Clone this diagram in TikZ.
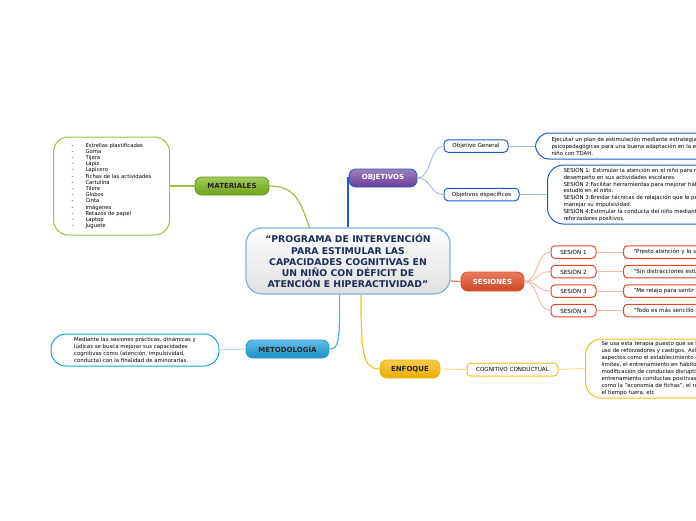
\documentclass[tikz,border=0pt]{standalone}
\usepackage{fontspec}
\setmainfont{DejaVu Sans}
\usepackage{tikz}
\usetikzlibrary{positioning}
\usepackage{xcolor}
\definecolor{hubline}{HTML}{7FB2E5}
\definecolor{hubtext}{HTML}{1C2D5A}
\definecolor{fgreen}{HTML}{7CB51C}
\definecolor{fgreenl}{HTML}{9BC53D}
\definecolor{fpurple}{HTML}{6A3D9A}
\definecolor{fblue}{HTML}{1E5CC8}
\definecolor{fbluel}{HTML}{9AB8E8}
\definecolor{forange}{HTML}{E2502A}
\definecolor{forangel}{HTML}{F7B7A0}
\definecolor{fcyan}{HTML}{1EA0DC}
\definecolor{fcyanl}{HTML}{A8D8F0}
\definecolor{fyellow}{HTML}{F5B400}
\definecolor{fyellowl}{HTML}{FDD98A}
\tikzset{
  hub/.style     = {draw=hubline, line width=1.2pt, rounded corners=16pt,
                    top color=white, bottom color=gray!25, text=hubtext,
                    minimum width=204pt, minimum height=66pt, align=center,
                    inner sep=0pt, font=\fontsize{9.3}{11.2}\selectfont\bfseries},
  branch/.style  = {line width=0.9pt, rounded corners=7pt, minimum height=18pt,
                    inner sep=0pt, font=\fontsize{7}{8}\selectfont\bfseries},
  leaf/.style    = {draw, fill=white, line width=1pt, rounded corners=4pt,
                    minimum height=12.5pt, inner sep=0pt,
                    font=\fontsize{5.6}{6.5}\selectfont},
  note/.style    = {draw, fill=white, line width=1pt, rounded corners=14pt,
                    align=left, inner xsep=16pt, inner ysep=0pt,
                    font=\fontsize{5.4}{6.9}\selectfont},
  trunk/.style   = {line width=1.2pt},
  twig/.style    = {line width=0.9pt},
}
\begin{document}
\begin{tikzpicture}[x=1pt,y=1pt]
\useasboundingbox (0,0) rectangle (696,-520);
\clip (0,0) rectangle (696,-520);
\node[hub] (prog) at (348,-261) {“PROGRAMA DE INTERVENCIÓN\\PARA ESTIMULAR LAS\\CAPACIDADES COGNITIVAS EN\\UN NIÑO CON DÉFICIT DE\\ATENCIÓN E HIPERACTIVIDAD”};
% branches
\node[branch, draw=fgreen!85!black, top color=fgreen!70!white, bottom color=fgreen!90!black,
  minimum width=74pt, text=black!85] (mat) at (232,-186) {MATERIALES};
\node[branch, draw=fblue, top color=fpurple!65!white, bottom color=fpurple,
  minimum width=68pt, text=white] (obj) at (383,-178) {OBJETIVOS};
\node[branch, draw=forange, top color=forange!75!white, bottom color=forange!90!black,
  minimum width=63pt, minimum height=19pt, text=white] (ses) at (492.5,-281.5) {SESIONES};
\node[branch, draw=fcyan, top color=fcyan!70!white, bottom color=fcyan!90!black,
  minimum width=83pt, text=black!85] (met) at (287.5,-349) {METODOLOGÍA};
\node[branch, draw=fyellow, top color=fyellow!70!white, bottom color=fyellow!95!black,
  minimum width=60pt, text=black!85] (enf) at (410,-369) {ENFOQUE};
% materiales
\node[note, draw=fgreenl, rounded corners=15pt, minimum width=116pt, minimum height=98pt,
  font=\fontsize{5.3}{6.2}\selectfont] (mattxt) at (111.5,-186) {%
  -\hspace{12pt}Estrellas plastificadas\\ -\hspace{12pt}Goma\\ -\hspace{12pt}Tijera\\
  -\hspace{12pt}Lápiz\\ -\hspace{12pt}Lapicero\\ -\hspace{12pt}Fichas de las actividades\\
  -\hspace{12pt}Cartulina\\ -\hspace{12pt}Tilere\\ -\hspace{12pt}Globos\\
  -\hspace{12pt}Cinta\\ -\hspace{12pt}Imágenes\\ -\hspace{12pt}Retazos de papel\\
  -\hspace{12pt}Laptop\\ -\hspace{12pt}Juguete};
% objetivos
\node[leaf, draw=fblue, minimum width=64pt] (objgen) at (476,-146) {Objetivo General};
\node[leaf, draw=fblue, minimum width=75pt] (objesp) at (481.5,-194.5) {Objetivos específicos};
\node[note, draw=fblue, anchor=west, minimum height=26pt] (objgentxt) at (535,-146) {%
  Ejecutar un plan de estimulación mediante estrategias\\
  psicopedagógicas para una buena adaptación en la escuela\\
  niño con TDAH.};
\node[note, draw=fblue, anchor=west, minimum height=59pt, rounded corners=16pt] (objesptxt) at (547,-194.5) {%
  SESIÓN 1: Estimular la atención en el niño para mejorar\\
  desempeño en sus actividades escolares.\\
  SESIÓN 2:Facilitar herramientas para mejorar hábitos\\
  estudio en el niño.\\
  SESIÓN 3:Brindar técnicas de relajación que le permitan\\
  manejar su impulsividad.\\
  SESIÓN 4:Estimular la conducta del niño mediante\\
  reforzadores positivos.};
% sesiones
\foreach \k/\y/\frase in {1/-252/“Presto atención y lo soluciono,
                          2/-271.5/“Sin distracciones estudio mejor,
                          3/-291/“Me relajo para sentir una calma,
                          4/-310.5/“Todo es más sencillo si me porto}{
  \node[leaf, draw=forange!90!red, minimum width=45pt] (ses\k) at (573.5,\y) {SESIÓN \k};
  \node[leaf, draw=forange!90!red, anchor=west, align=left, inner xsep=10pt] (ses\k txt) at (623,\y) {\frase};
  \draw[twig, forangel] (ses.east) .. controls +(14,0) and +(-14,0) .. (ses\k.west);
  \draw[twig, forangel] (ses\k.east) -- (ses\k txt.west);
}
% metodologia
\node[note, draw=fcyan, minimum width=168pt, minimum height=32pt, rounded corners=15pt] (mettxt) at (135,-350) {%
  Mediante las sesiones prácticas, dinámicas y\\
  lúdicas se busca mejorar sus capacidades\\
  cognitivas como (atención, impulsividad,\\
  conducta) con la finalidad de aminorarlas.};
% enfoque
\node[leaf, draw=fyellow!90!white, minimum width=91pt, minimum height=13pt] (cogcon) at (512.5,-369.5) {COGNITIVO CONDUCTUAL};
\node[note, draw=fyellow!90!white, anchor=west, minimum height=59pt, rounded corners=16pt] (enftxt) at (585,-368.5) {%
  Se usa esta terapia puesto que se basa\\
  uso de reforzadores y castigos. Así\\
  aspectos como el establecimiento de\\
  límites, el entrenamiento en hábitos\\
  modificación de conductas disruptivas\\
  entrenamiento conductas positivas\\
  como la "economía de fichas", el refuerzo\\
  el tiempo fuera, etc};
% connectors
\draw[trunk, fgreenl] (mattxt.east) -- (mat.west);
\draw[trunk, fgreenl] (mat.east) .. controls +(28,0) and +(-8,22) .. (prog.139);
\draw[trunk, fblue] (prog.north) |- (obj.west);
\draw[twig, fbluel] (obj.east) .. controls +(14,0) and +(-14,0) .. (objgen.west);
\draw[twig, fbluel] (obj.east) .. controls +(14,0) and +(-14,0) .. (objesp.west);
\draw[twig, fbluel] (objgen.east) -- (objgentxt.west);
\draw[twig, fbluel] (objesp.east) -- (objesptxt.west);
\draw[trunk, forange!80!white] (prog.-11) -- (ses.west);
\draw[trunk, fcyan!80!white] (prog.256) .. controls +(0,-45) and +(10,0) .. (met.east);
\draw[twig, fcyanl] (mettxt.east) -- (met.west);
\draw[trunk, fyellow!80!white] (prog.291) .. controls +(0,-60) and +(-16,0) .. (enf.west);
\draw[twig, fyellowl] (enf.east) -- (cogcon.west);
\draw[twig, fyellowl] (cogcon.east) -- (enftxt.west);
\end{tikzpicture}
\end{document}
